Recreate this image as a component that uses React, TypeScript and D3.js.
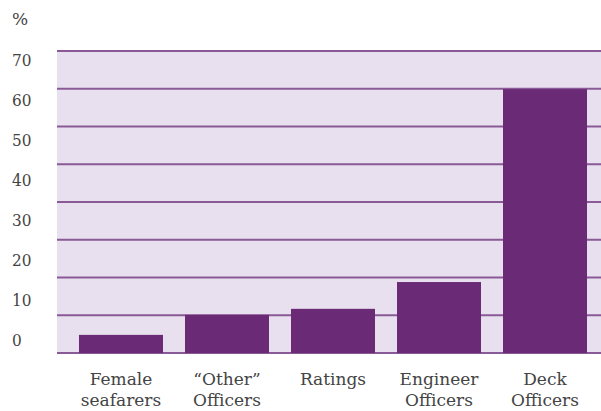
import React from "react";
import * as d3 from "d3";

const categories: string[][] = [
  ["Female", "seafarers"],
  ["\u201cOther\u201d", "Officers"],
  ["Ratings"],
  ["Engineer", "Officers"],
  ["Deck", "Officers"],
];
const values: number[] = [4.8, 10.1, 11.7, 18.8, 69.9];
const tickLabels: string[] = ["0", "10", "20", "30", "40", "50", "60", "70"];
const tickValues: number[] = [0, 10, 20, 30, 40, 50, 60, 70];

const W = 601;
const H = 411;
const FONT = "'DejaVu Serif', serif";

export default function App() {
  const x = d3
    .scaleBand<number>()
    .domain(d3.range(categories.length))
    .range([68, 598])
    .paddingInner(0.2075)
    .paddingOuter(0.1037);
  const y = d3.scaleLinear().domain([0, 80]).range([353, 51]);
  const labelY = d3.scaleLinear().domain([0, 70]).range([340, 60]);
  const grid = y.ticks(8);

  return (
    <svg
      width={W}
      height={H}
      style={{ position: "absolute", left: 0, top: 0, background: "#fff" }}
    >
      <rect x={57} y={y(80)} width={W - 57} height={y(0) - y(80)} fill="#e8e0ee" />
      {grid.map((g) => (
        <line
          key={g}
          x1={57}
          x2={W}
          y1={y(g)}
          y2={y(g)}
          stroke="#8a5a96"
          strokeWidth={1.8}
        />
      ))}
      {values.map((v, i) => (
        <rect
          key={i}
          x={x(i)}
          y={y(v)}
          width={x.bandwidth()}
          height={y(0) - y(v)}
          fill="#6b2a75"
        />
      ))}
      <text x={12} y={25} fontFamily={FONT} fontSize={17} fill="#444">
        %
      </text>
      {tickValues.map((t, i) => (
        <text
          key={t}
          x={12}
          y={labelY(t)}
          dy="0.36em"
          fontFamily="'DejaVu Serif Condensed', 'DejaVu Serif', serif"
          fontSize={17}
          fill="#444"
        >
          {tickLabels[i]}
        </text>
      ))}
      {categories.map((lines, i) => (
        <text
          key={i}
          x={(x(i) as number) + x.bandwidth() / 2}
          textAnchor="middle"
          fontFamily={FONT}
          fontSize={17}
          fill="#444"
        >
          {lines.map((l, j) => (
            <tspan key={j} x={(x(i) as number) + x.bandwidth() / 2} y={385 + j * 21}>
              {l}
            </tspan>
          ))}
        </text>
      ))}
    </svg>
  );
}
